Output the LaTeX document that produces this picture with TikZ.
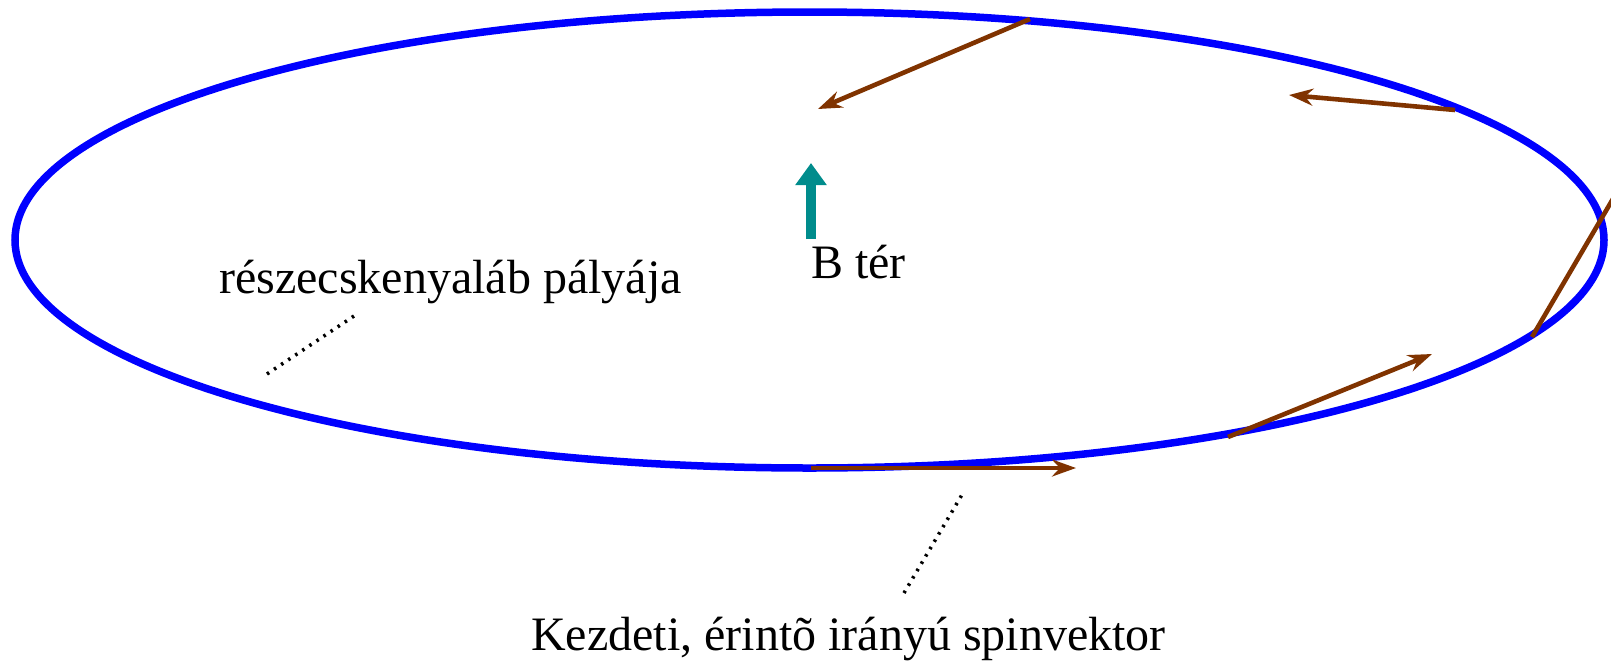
\documentclass[tikz,border=0pt]{standalone}
\usepackage{fontspec}
\setmainfont{Liberation Serif}
\usetikzlibrary{arrows.meta}
\definecolor{orbitblue}{RGB}{0,0,255}
\definecolor{spinbrown}{RGB}{128,51,0}
\definecolor{fieldteal}{RGB}{0,140,140}
\begin{document}
\begin{tikzpicture}[x=1pt,y=-1pt,
  orbit/.style={draw=orbitblue, line width=7.5pt},
  spin/.style={draw=spinbrown, line width=4.6pt, -{Stealth[length=24pt,width=17pt,inset=8pt]}},
  field/.style={draw=fieldteal, line width=10pt, -{Triangle[length=22pt,width=30pt]}},
  leader/.style={draw=black, line width=3.5pt, dash pattern=on 2.5pt off 6pt},
  label/.style={inner sep=0pt, font=\fontsize{48}{58}\selectfont}]
\useasboundingbox (0,0) rectangle (1611,662);
\clip (0,0) rectangle (1611,662);
% orbit
\draw[orbit] (809.5,240) ellipse [x radius=794.5, y radius=228];
% endpoints
\coordinate (s1a) at (1030,19);  \coordinate (s1b) at (818,109);
\coordinate (s2a) at (1455,110); \coordinate (s2b) at (1289,95);
\coordinate (s3a) at (1532,337); \coordinate (s3b) at (1641,151);
\coordinate (s4a) at (1228,437); \coordinate (s4b) at (1432,354);
\coordinate (s5a) at (811,468);  \coordinate (s5b) at (1076,468);
\coordinate (ba) at (811,239);   \coordinate (bb) at (811,163);
\coordinate (d1a) at (267,374);  \coordinate (d1b) at (354,316);
\coordinate (d2a) at (904,593);  \coordinate (d2b) at (963,493);
% spin vectors
\draw[spin] (s1a) -- (s1b);
\draw[spin] (s2a) -- (s2b);
\draw[spin] (s3a) -- (s3b);
\draw[spin] (s4a) -- (s4b);
\draw[spin] (s5a) -- (s5b);
% field arrow
\draw[field] (ba) -- (bb);
% labels
\node[label, anchor=base west] (blabel) at (811,278) {B tér};
\node[label, anchor=base west] (orbitlabel) at (219,293) {részecskenyaláb pályája};
\node[label, anchor=base west] (spinlabel) at (531,650) {Kezdeti, érintõ irányú spinvektor};
% leaders
\draw[leader] (d1a) -- (d1b);
\draw[leader] (d2a) -- (d2b);
\end{tikzpicture}
\end{document}
